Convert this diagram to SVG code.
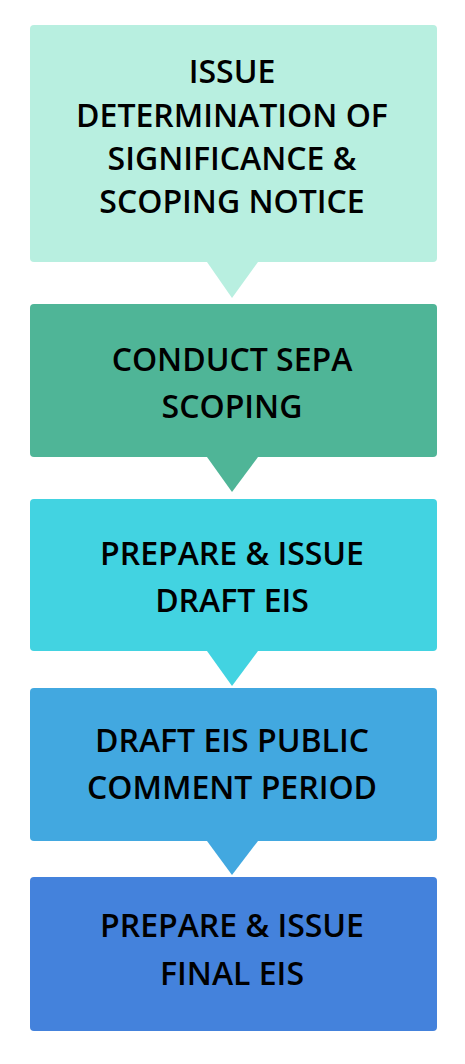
<svg xmlns="http://www.w3.org/2000/svg" width="465" height="1064" viewBox="0 0 465 1064">
<style>
text{font-family:"Open Sans","Noto Sans",sans-serif;font-weight:600;font-size:32px;fill:#000;text-anchor:middle}
</style>
<rect width="465" height="1064" fill="#fff"/>
<g id="connectors">
<polygon points="207,262 258,262 232,298" fill="#b8efe0"/>
<polygon points="207,457 258,457 232,492" fill="#4fb597"/>
<polygon points="207,651 258,651 232,686" fill="#42d3e1"/>
<polygon points="207,841 258,841 232,875" fill="#42a8e0"/>
</g>
<g id="n1"><rect x="30" y="25" width="407" height="237" rx="4" fill="#b8efe0"/>
<text x="232" y="83">ISSUE</text><text x="232" y="127">DETERMINATION OF</text><text x="232" y="170">SIGNIFICANCE &amp;</text><text x="232" y="213">SCOPING NOTICE</text></g>
<g id="n2"><rect x="30" y="304" width="407" height="153" rx="4" fill="#4fb597"/>
<text x="232" y="371">CONDUCT SEPA</text><text x="232" y="418">SCOPING</text></g>
<g id="n3"><rect x="30" y="499" width="407" height="152" rx="4" fill="#42d3e1"/>
<text x="232" y="565">PREPARE &amp; ISSUE</text><text x="232" y="612">DRAFT EIS</text></g>
<g id="n4"><rect x="30" y="688" width="407" height="153" rx="4" fill="#42a8e0"/>
<text x="232" y="752">DRAFT EIS PUBLIC</text><text x="232" y="799">COMMENT PERIOD</text></g>
<g id="n5"><rect x="30" y="877" width="407" height="154" rx="4" fill="#4482dc"/>
<text x="232" y="937">PREPARE &amp; ISSUE</text><text x="232" y="985">FINAL EIS</text></g>
</svg>
